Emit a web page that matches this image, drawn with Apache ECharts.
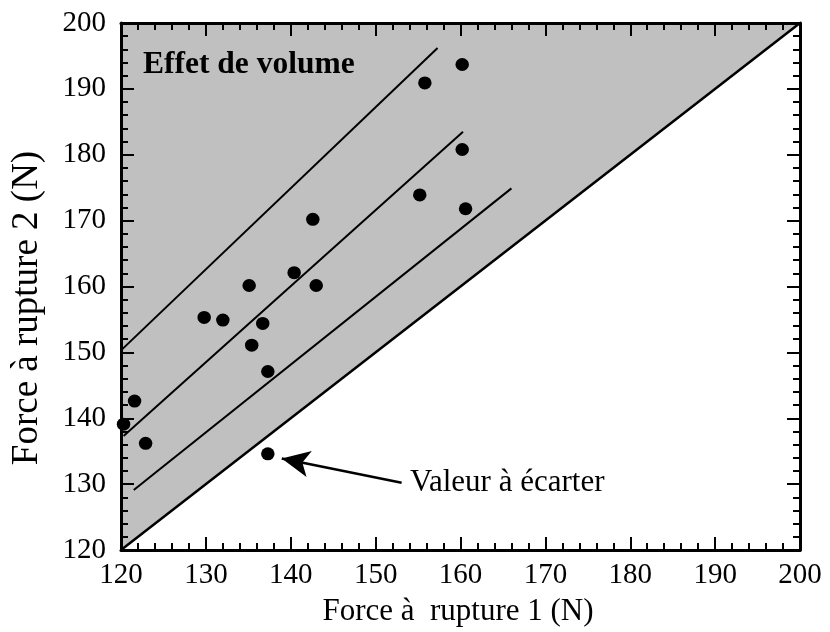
<!DOCTYPE html>
<html>
<head>
<meta charset="utf-8">
<script src="https://cdn.jsdelivr.net/npm/echarts@6/dist/echarts.min.js"></script>
<style>html,body{margin:0;padding:0;background:#fff}#c{width:830px;height:632px}</style>
</head>
<body>
<div id="c"></div>
<script>
// ---- data ----
var xTicks = [120, 130, 140, 150, 160, 170, 180, 190, 200];
var yTicks = [120, 130, 140, 150, 160, 170, 180, 190, 200];
var pointsX = [120.3, 121.6, 122.9, 129.8, 132.0, 135.1, 135.4, 136.7, 137.3, 140.4, 143.0, 142.6, 155.2, 155.8, 160.2, 160.2, 160.6];
var pointsY = [139.1, 142.6, 136.2, 155.3, 154.9, 160.15, 151.1, 154.4, 147.1, 162.1, 160.15, 170.2, 173.9, 190.9, 193.7, 180.8, 171.8];
var outlierX = [137.3];
var outlierY = [134.6];
var diagonal = [[120, 120], [200, 200]];
var line1 = [[120, 150.3], [157.3, 196.2]];
var line2 = [[120.3, 137.3], [160.3, 183.5]];
var line3 = [[121.5, 129.1], [166.0, 174.9]];
var shadedRegion = [[120, 120], [120, 200], [200, 200]];
var arrowFrom = [153.06, 130.2];
var arrowTo = [138.94, 133.9];
var titleText = 'Effet de volume';
var annotText = 'Valeur à écarter';
var xName = 'Force à  rupture 1 (N)';
var yName = 'Force à rupture 2 (N)';

// ---- chart ----
var FONT = '"Liberation Serif", "DejaVu Serif", serif';
var chart = echarts.init(document.getElementById('c'));
function zip(xs, ys) { return xs.map(function (x, i) { return [x, ys[i]]; }); }

function axisCommon(pos, showLabel) {
  return {
    type: 'value', min: xTicks[0], max: xTicks[xTicks.length - 1], interval: 10,
    position: pos, z: 10,
    axisLine: { show: true, onZero: false, lineStyle: { color: '#000', width: 3 } },
    axisTick: { show: true, inside: true, length: 13, lineStyle: { color: '#000', width: 2 } },
    minorTick: { show: true, splitNumber: 5, length: 7, lineStyle: { color: '#000', width: 2 } },
    splitLine: { show: false },
    axisLabel: { show: showLabel, color: '#000', fontFamily: FONT, fontSize: 29, margin: 11 }
  };
}
var xBottom = axisCommon('bottom', true);
var xTop = axisCommon('top', false);
var yLeft = axisCommon('left', true); yLeft.min = yTicks[0]; yLeft.max = yTicks[yTicks.length - 1]; yLeft.axisLabel.margin = 15;
var yRight = axisCommon('right', false); yRight.min = yTicks[0]; yRight.max = yTicks[yTicks.length - 1];

var lineStyleSeries = function (data, w) {
  return {
    type: 'line', data: data, xAxisIndex: 0, yAxisIndex: 0, symbol: 'none', z: 3,
    lineStyle: { color: '#000', width: w }, silent: true, animation: false
  };
};

chart.setOption({
  animation: false,
  backgroundColor: '#fff',
  grid: { left: 121, right: 30, top: 23, bottom: 82 },
  xAxis: [xBottom, xTop],
  yAxis: [yLeft, yRight],
  series: [
    {
      type: 'custom', xAxisIndex: 0, yAxisIndex: 0, z: 1, silent: true,
      data: [0],
      renderItem: function (params, api) {
        var pts = shadedRegion.map(function (p) { return api.coord(p); });
        return { type: 'polygon', shape: { points: pts }, style: { fill: '#c0c0c0', stroke: null } };
      }
    },
    lineStyleSeries(diagonal, 2.5),
    lineStyleSeries(line1, 2),
    lineStyleSeries(line2, 2),
    lineStyleSeries(line3, 2),
    {
      type: 'scatter', data: zip(pointsX, pointsY), symbol: 'circle', symbolSize: [13.5, 13],
      itemStyle: { color: '#000', opacity: 1 }, z: 5, clip: false
    },
    {
      type: 'scatter', data: zip(outlierX, outlierY), symbol: 'circle', symbolSize: [13.5, 13],
      itemStyle: { color: '#000', opacity: 1 }, z: 5, clip: false,
      markLine: {
        silent: true, animation: false,
        symbol: ['none', 'arrow'], symbolSize: [20, 28],
        lineStyle: { color: '#000', width: 2.5, type: 'solid', opacity: 1 },
        label: { show: false },
        data: [[{ coord: arrowFrom }, { coord: arrowTo }]]
      }
    }
  ],
  graphic: [
    { type: 'text', left: 143, top: 49, z: 20,
      style: { text: titleText, fontFamily: FONT, fontWeight: 'bold', fontSize: 31.5, fill: '#000' } },
    { type: 'text', left: 410, top: 467, z: 20,
      style: { text: annotText, fontFamily: FONT, fontSize: 31, fill: '#000' } },
    { type: 'text', x: 458, y: 612, z: 20,
      style: { text: xName, fontFamily: FONT, fontSize: 31, fill: '#000', align: 'center', verticalAlign: 'middle' } },
    { type: 'text', x: 27, y: 308, rotation: Math.PI / 2, z: 20,
      style: { text: yName, fontFamily: FONT, fontSize: 37, fill: '#000', align: 'center', verticalAlign: 'middle' } }
  ]
});
</script>
</body>
</html>
